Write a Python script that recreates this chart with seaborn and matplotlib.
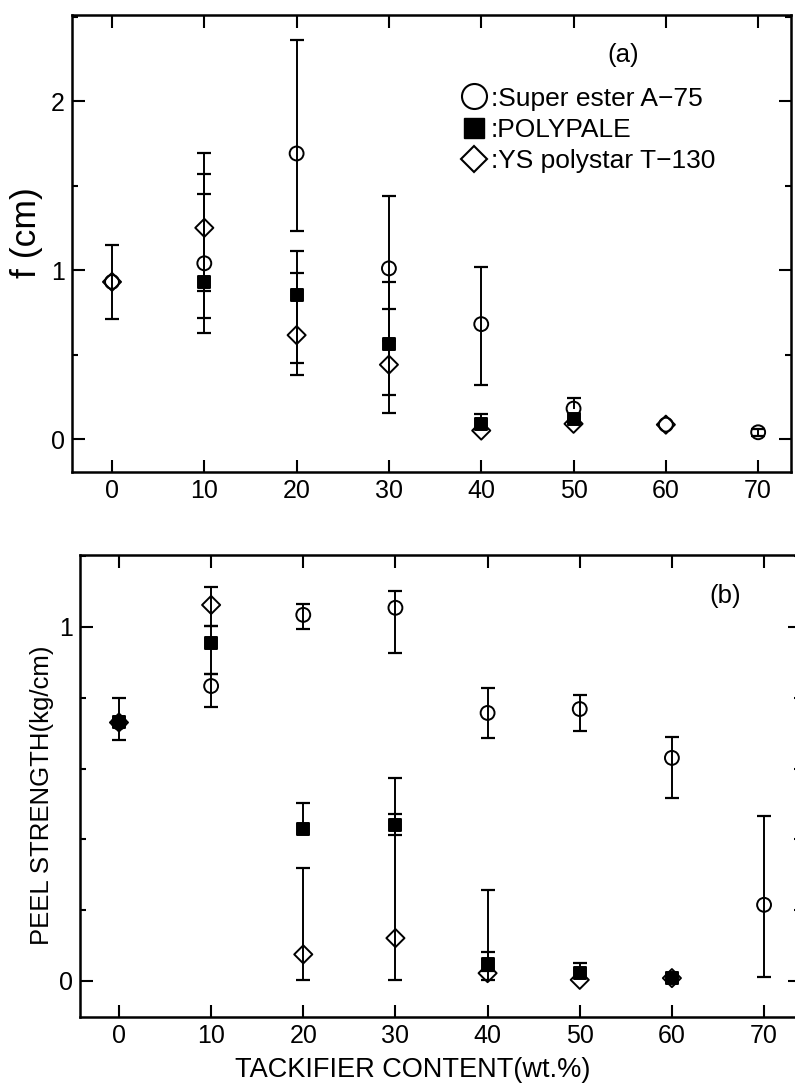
import numpy as np
import matplotlib
matplotlib.use("Agg")
import matplotlib.pyplot as plt
import seaborn as sns
from matplotlib.lines import Line2D
from matplotlib.ticker import MultipleLocator

sns.set_theme(style="ticks")
plt.rcParams['font.family'] = ['Liberation Sans', 'DejaVu Sans']
plt.rcParams['text.color'] = 'black'
plt.rcParams['axes.labelcolor'] = 'black'

# ---------------- data: panel (a)  f (cm) ----------------
a_x_super = [0, 10, 20, 30, 40, 50, 60, 70]
a_f_super = [0.93, 1.04, 1.69, 1.01, 0.68, 0.18, 0.085, 0.04]
a_lo_super = [0.22, 0.41, 0.46, 0.43, 0.36, 0.0, 0.0, 0.02]
a_hi_super = [0.22, 0.41, 0.67, 0.43, 0.34, 0.06, 0.0, 0.02]

a_x_poly = [10, 20, 30, 40, 50]
a_f_poly = [0.93, 0.85, 0.56, 0.09, 0.12]
a_lo_poly = [0.215, 0.40, 0.405, 0.0, 0.0]
a_hi_poly = [0.64, 0.26, 0.37, 0.06, 0.0]

a_x_ys = [0, 10, 20, 30, 40, 50, 60]
a_f_ys = [0.93, 1.25, 0.615, 0.44, 0.05, 0.09, 0.085]
a_lo_ys = [0.0, 0.375, 0.235, 0.18, 0.0, 0.0, 0.0]
a_hi_ys = [0.0, 0.44, 0.365, 0.33, 0.0, 0.0, 0.0]

# ---------------- data: panel (b)  peel strength (kg/cm) ----------------
b_x_super = [0, 10, 20, 30, 40, 50, 60, 70]
b_p_super = [0.73, 0.833, 1.034, 1.054, 0.757, 0.768, 0.63, 0.215]
b_lo_super = [0.05, 0.06, 0.04, 0.128, 0.071, 0.062, 0.113, 0.204]
b_hi_super = [0.07, 0.034, 0.031, 0.048, 0.071, 0.04, 0.059, 0.25]

b_x_poly = [0, 10, 20, 30, 40, 50, 60]
b_p_poly = [0.73, 0.955, 0.429, 0.44, 0.048, 0.022, 0.008]
b_lo_poly = [0.0, 0.088, 0.0, 0.028, 0.02, 0.0, 0.0]
b_hi_poly = [0.0, 0.048, 0.074, 0.032, 0.034, 0.028, 0.0]

b_x_ys = [0, 10, 20, 30, 40, 50, 60]
b_p_ys = [0.73, 1.062, 0.075, 0.121, 0.022, 0.003, 0.008]
b_lo_ys = [0.0, 0.059, 0.072, 0.118, 0.02, 0.0, 0.0]
b_hi_ys = [0.0, 0.051, 0.244, 0.452, 0.235, 0.0, 0.0]

series_names = [":Super ester A\u221275", ":POLYPALE", ":YS polystar T\u2212130"]
x_ticks = [0, 10, 20, 30, 40, 50, 60, 70]

LW = 1.4


def draw_err(ax, x, y, lo, hi):
    x = np.asarray(x, float); y = np.asarray(y, float)
    lo = np.asarray(lo, float); hi = np.asarray(hi, float)
    m = (lo > 0) | (hi > 0)
    ax.vlines(x[m], (y - lo)[m], (y + hi)[m], color='black', lw=LW, zorder=2)
    t = hi > 0
    b = lo > 0
    ax.plot(x[t], (y + hi)[t], ls='none', marker='_', ms=9.5, mew=1.6, color='black', zorder=2)
    ax.plot(x[b], (y - lo)[b], ls='none', marker='_', ms=9.5, mew=1.6, color='black', zorder=2)


def draw_pts(ax, x, y, marker, filled, s):
    sns.scatterplot(x=x, y=y, ax=ax, marker=marker, s=s,
                    facecolors='black' if filled else 'none',
                    edgecolor='black', linewidth=1.4, zorder=3, legend=False)


def style_axes(ax, ylim, xlim):
    ax.set_xlim(*xlim)
    ax.set_ylim(*ylim)
    ax.set_xticks(x_ticks)
    ax.tick_params(which='both', direction='in', top=True, right=True,
                   width=1.5, labelsize=18, color='black', labelcolor='black')
    ax.tick_params(which='major', length=9, pad=5)
    ax.tick_params(which='minor', length=4.5)
    ax.tick_params(axis='x', which='minor', top=False, bottom=False)
    for sp in ax.spines.values():
        sp.set_linewidth(1.8)
        sp.set_color('black')
    ax.set_facecolor('white')


fig = plt.figure(figsize=(7.95, 10.83), dpi=100)
fig.patch.set_facecolor('white')
ax1 = fig.add_axes([0.0906, 0.5642, 0.9044, 0.4220])
ax2 = fig.add_axes([0.1006, 0.0609, 0.9057, 0.4266])

# panel (a)
draw_err(ax1, a_x_super, a_f_super, a_lo_super, a_hi_super)
draw_err(ax1, a_x_poly, a_f_poly, a_lo_poly, a_hi_poly)
draw_err(ax1, a_x_ys, a_f_ys, a_lo_ys, a_hi_ys)
draw_pts(ax1, a_x_super, a_f_super, 'o', False, 100)
draw_pts(ax1, a_x_poly, a_f_poly, 's', True, 85)
draw_pts(ax1, a_x_ys, a_f_ys, 'D', False, 85)
style_axes(ax1, (-0.195, 2.51), (-4.33, 73.56))
ax1.set_yticks([0, 1, 2])
ax1.yaxis.set_minor_locator(MultipleLocator(0.5))
ax1.set_xlabel('')
ax1.set_ylabel('f (cm)', fontsize=25.5)
ax1.yaxis.set_label_coords(-0.04, 0.523)
ax1.text(0.766, 0.9125, '(a)', transform=ax1.transAxes, fontsize=18.5,
         ha='center', va='center')

handles = [
    Line2D([], [], ls='none', marker='o', ms=18, mfc='none', mec='black', mew=1.5),
    Line2D([], [], ls='none', marker='s', ms=14.5, mfc='black', mec='black', mew=1.0),
    Line2D([], [], ls='none', marker='D', ms=13, mfc='none', mec='black', mew=1.5),
]
ax1.legend(handles, series_names, loc='upper left', bbox_to_anchor=(0.5396, 0.843),
           frameon=False, fontsize=19, borderpad=0, borderaxespad=0,
           handlelength=1.08, handletextpad=0.08, labelspacing=0.28,
           labelcolor='black')

# panel (b)
draw_err(ax2, b_x_super, b_p_super, b_lo_super, b_hi_super)
draw_err(ax2, b_x_poly, b_p_poly, b_lo_poly, b_hi_poly)
draw_err(ax2, b_x_ys, b_p_ys, b_lo_ys, b_hi_ys)
draw_pts(ax2, b_x_super, b_p_super, 'o', False, 100)
draw_pts(ax2, b_x_poly, b_p_poly, 's', True, 85)
draw_pts(ax2, b_x_ys, b_p_ys, 'D', False, 85)
style_axes(ax2, (-0.102, 1.203), (-4.23, 73.9))
ax2.set_yticks([0, 1])
ax2.yaxis.set_minor_locator(MultipleLocator(0.2))
ax2.set_ylabel('PEEL STRENGTH(kg/cm)', fontsize=18.5)
ax2.yaxis.set_label_coords(-0.036, 0.48)
ax2.set_xlabel('TACKIFIER CONTENT(wt.%)', fontsize=19.5)
ax2.xaxis.set_label_coords(0.4625, -0.0866)
ax2.text(0.896, 0.911, '(b)', transform=ax2.transAxes, fontsize=18.5,
         ha='center', va='center')

fig.savefig('out.png', dpi=100, facecolor='white')
